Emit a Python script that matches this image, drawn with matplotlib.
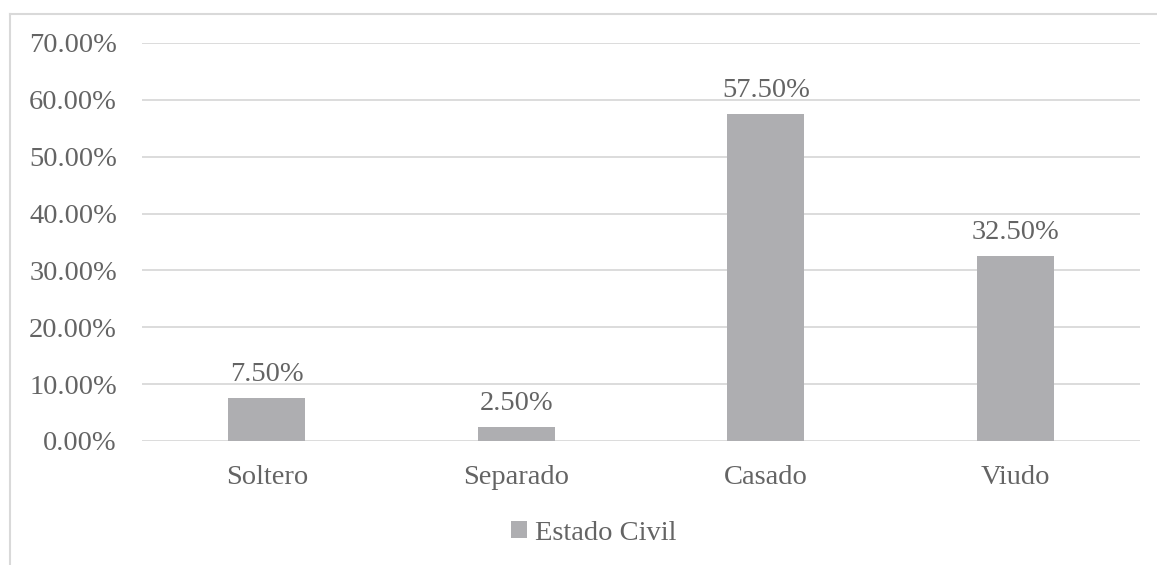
import matplotlib
matplotlib.use("Agg")
import matplotlib.pyplot as plt
from matplotlib.lines import Line2D
from matplotlib.patches import Patch

categories = ["Soltero", "Separado", "Casado", "Viudo"]
values = [0.075, 0.025, 0.575, 0.325]
series_name = "Estado Civil"
yticks = [0.0, 0.1, 0.2, 0.3, 0.4, 0.5, 0.6, 0.7]

W, H = 1157, 565
plt.rcParams['font.family'] = ['Liberation Serif', 'DejaVu Serif']
txt = "#646464"
bar_color = "#AEAEB1"
grid_color = "#D9D9D9"
fs = 20.5

fig = plt.figure(figsize=(W/100, H/100), dpi=100)
ax = fig.add_axes([142/W, 1-441/H, (1140-142)/W, (441-43)/H])

x = list(range(len(categories)))
ax.bar(x, values, width=0.31, color=bar_color, zorder=3)
ax.set_xlim(-0.5, len(categories)-0.5)
ax.set_ylim(0, 0.70)
ax.set_yticks(yticks)
ax.set_yticklabels([f"{v*100:.2f}%" for v in yticks], fontsize=fs, color=txt)
ax.set_xticks(x)
ax.set_xticklabels(categories, fontsize=fs, color=txt)
ax.tick_params(axis='both', length=0)
ax.tick_params(axis='y', pad=18)
ax.tick_params(axis='x', pad=17)
ax.grid(axis='y', color=grid_color, linewidth=1.3, zorder=0)
for s in ax.spines.values():
    s.set_visible(False)

for xi, v in zip(x, values):
    ax.annotate(f"{v*100:.2f}%", (xi, v), xytext=(0, 8), textcoords='offset points',
                ha='center', va='bottom', fontsize=fs, color=txt)

# legend
handle = Patch(facecolor=bar_color, edgecolor='none')
fig.legend([handle], [series_name], loc='center', bbox_to_anchor=(594/W, 1-533/H),
           frameon=False, fontsize=fs, labelcolor=txt, handlelength=0.55, handleheight=0.55,
           handletextpad=0.3)

# chart border (top and left visible)
fig.add_artist(Line2D([9.5/W, 1.0], [1-14/H, 1-14/H], transform=fig.transFigure, color=grid_color, linewidth=1.5))
fig.add_artist(Line2D([9.5/W, 9.5/W], [1-14/H, 0], transform=fig.transFigure, color=grid_color, linewidth=1.5))

fig.savefig("out.png", dpi=100)
